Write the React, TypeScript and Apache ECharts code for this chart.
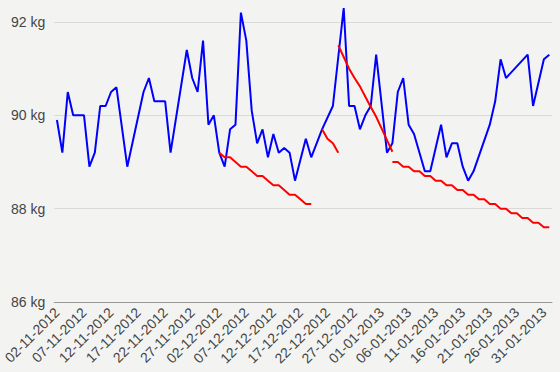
import React, { useEffect, useRef } from "react";
import * as echarts from "echarts";

// Categories: one per day, 02-11-2012 .. 01-02-2013
const firstDay = Date.UTC(2012, 10, 2);
const dayCount = 92;
const pad = (n: number) => (n < 10 ? "0" + n : "" + n);
const dates: string[] = [];
for (let i = 0; i < dayCount; i++) {
  const d = new Date(firstDay + i * 86400000);
  dates.push(`${pad(d.getUTCDate())}-${pad(d.getUTCMonth() + 1)}-${d.getUTCFullYear()}`);
}

// Daily weigh-ins (null = no weigh-in that day)
const weight: (number | null)[] = [
  89.9, 89.2, 90.5, 90.0, 90.0, 90.0, 88.9, 89.2, 90.2, 90.2,
  90.5, 90.6, null, 88.9, null, null, 90.5, 90.8, 90.3, 90.3,
  90.3, 89.2, null, null, 91.4, 90.8, 90.5, 91.6, 89.8, 90.0,
  89.2, 88.9, 89.7, 89.8, 92.2, 91.6, 90.1, 89.4, 89.7, 89.1,
  89.6, 89.2, 89.3, 89.2, 88.6, null, 89.5, 89.1, null, 89.7,
  null, 90.2, null, 92.3, 90.2, 90.2, 89.7, 90.0, 90.2, 91.3,
  null, 89.2, 89.4, 90.5, 90.8, 89.8, 89.6, null, 88.8, 88.8,
  null, 89.8, 89.1, 89.4, 89.4, 88.9, 88.6, 88.8, null, null,
  89.8, 90.3, 91.2, 90.8, null, null, null, 91.3, 90.2, null,
  91.2, 91.3,
];

// Trend segments (start index into dates, values)
const trend1Start = 30;
const trend1 = [89.2, 89.1, 89.1, 89.0, 88.9, 88.9, 88.8, 88.7, 88.7, 88.6, 88.5, 88.5, 88.4, 88.3, 88.3, 88.2, 88.1, 88.1];
const trend2Start = 49;
const trend2 = [89.7, 89.5, 89.4, 89.2];
const trend3Start = 52;
const trend3 = [91.5, 91.25, 91.0, 90.8, 90.62, 90.4, 90.18, 89.97, 89.72, 89.47, 89.22];
const trend4Start = 62;
const trend4 = [89.0, 89.0, 88.9, 88.9, 88.8, 88.8, 88.7, 88.7, 88.6, 88.6, 88.5, 88.5, 88.4, 88.4, 88.3, 88.3, 88.2, 88.2, 88.1, 88.1, 88.0, 88.0, 87.9, 87.9, 87.8, 87.8, 87.7, 87.7, 87.6, 87.6];

const yTicks = { min: 86, max: 92, step: 2 };

function place(start: number, vals: number[]): (number | null)[] {
  const out: (number | null)[] = new Array(dayCount).fill(null);
  vals.forEach((v, k) => {
    out[start + k] = v;
  });
  return out;
}

export default function App() {
  const ref = useRef<HTMLDivElement>(null);
  useEffect(() => {
    if (!ref.current) return;
    const chart = echarts.init(ref.current, undefined, { renderer: "svg" });
    const font = "'Liberation Sans', Arial, sans-serif";
    const trendSeries = [
      [trend1Start, trend1],
      [trend2Start, trend2],
      [trend3Start, trend3],
      [trend4Start, trend4],
    ].map(([s, v]) => ({
      type: "line" as const,
      data: place(s as number, v as number[]),
      showSymbol: false,
      connectNulls: false,
      clip: false,
      lineStyle: { color: "#ff0000", width: 2 },
      itemStyle: { color: "#ff0000" },
      z: 3,
    }));
    chart.setOption({
      animation: false,
      backgroundColor: "#f3f4f2",
      grid: { left: 49, right: 8, top: 22, bottom: 70, containLabel: false },
      xAxis: {
        type: "category",
        data: dates,
        boundaryGap: true,
        axisTick: { show: false },
        axisLine: { lineStyle: { color: "#999", width: 1 } },
        axisLabel: {
          interval: 4,
          rotate: 45,
          margin: 8,
          color: "#444",
          fontSize: 14,
          fontFamily: font,
        },
        splitLine: { show: false },
      },
      yAxis: {
        type: "value",
        min: yTicks.min,
        max: yTicks.max,
        interval: yTicks.step,
        axisLine: { show: false },
        axisTick: { show: false },
        axisLabel: {
          formatter: "{value} kg",
          margin: 9,
          color: "#444",
          fontSize: 14,
          fontFamily: font,
        },
        splitLine: { lineStyle: { color: "#dcd8d8", width: 1 } },
      },
      series: [
        {
          type: "line",
          data: weight,
          showSymbol: false,
          connectNulls: true,
          clip: false,
          lineStyle: { color: "#0000ff", width: 2 },
          itemStyle: { color: "#0000ff" },
          z: 2,
        },
        ...trendSeries,
      ],
    });
    return () => chart.dispose();
  }, []);
  return (
    <div
      ref={ref}
      style={{ position: "fixed", left: 0, top: 0, width: 560, height: 372 }}
    />
  );
}
